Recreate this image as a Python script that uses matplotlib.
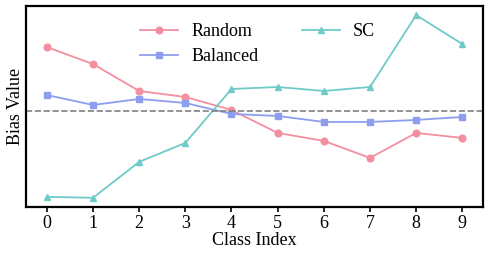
import numpy as np
import matplotlib.pyplot as plt

plt.rcParams['font.family'] = ['Liberation Serif', 'DejaVu Serif']

classes = np.arange(10)
random_bias = [0.64, 0.47, 0.20, 0.14, 0.01, -0.22, -0.30, -0.47, -0.22, -0.27]
balanced_bias = [0.16, 0.06, 0.12, 0.08, -0.03, -0.05, -0.11, -0.11, -0.09, -0.06]
sc_bias = [-0.86, -0.87, -0.51, -0.32, 0.22, 0.24, 0.20, 0.24, 0.96, 0.67]

fig = plt.figure(figsize=(4.91, 2.60), dpi=100)
ax = fig.add_axes([0.053, 0.204, 0.931, 0.773])

ax.plot(classes, random_bias, color='#F48FA0', marker='o', markersize=4.8, lw=1.3, label='Random')
ax.plot(classes, balanced_bias, color='#8E9EEF', marker='s', markersize=4.8, lw=1.3, label='Balanced')
ax.plot(classes, sc_bias, color='#6FCBC8', marker='^', markersize=4.8, lw=1.3, label='SC')
ax.axhline(0, color='gray', ls='--', lw=1.2)

ax.set_xticks(classes)
ax.set_yticks([])
ax.tick_params(axis='x', labelsize=13, width=1.2, length=3.5, pad=2.5)
ax.set_xlabel('Class Index', fontsize=13, labelpad=0)
ax.set_ylabel('Bias Value', fontsize=13)
ax.yaxis.set_label_coords(-0.005, 0.5)
for s in ax.spines.values():
    s.set_linewidth(1.6)

ax.legend(loc='upper left', ncol=2, frameon=False, fontsize=13,
          bbox_to_anchor=(0.249, 0.915), handlelength=2.1, handletextpad=0.75,
          columnspacing=2.4, borderaxespad=0, borderpad=0, labelspacing=0.45)

fig.savefig('out.png')
plt.close(fig)
